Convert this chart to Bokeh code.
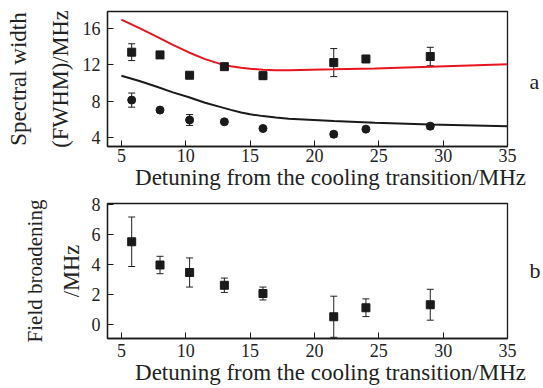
from bokeh.plotting import figure
from bokeh.models import ColumnDataSource, Whisker, TeeHead, Range1d, LinearAxis, FixedTicker
from bokeh.layouts import column
from bokeh.embed import file_html
from bokeh.resources import INLINE

# ---- data ----
detuning = [5.8, 8.0, 10.3, 13.0, 16.0, 21.5, 24.0, 29.0]
width_sq = [13.4, 13.1, 10.85, 11.8, 10.8, 12.25, 12.65, 12.92]
width_sq_err = [0.93, 0, 0, 0, 0.4, 1.55, 0, 1.02]
width_ci = [8.1, 7.0, 5.9, 5.7, 4.96, 4.33, 4.89, 5.22]
width_ci_err = [0.78, 0, 0.6, 0, 0, 0.3, 0, 0.3]
curve_x = [5, 6.4, 7.7, 9, 10.25, 11.5, 12.8, 13.5, 14.3, 15, 16, 17, 18, 21.5, 24.7, 29, 35]
red_curve = [17.0, 16.07, 15.15, 14.2, 13.37, 12.63, 12.05, 11.85, 11.68, 11.56, 11.46, 11.41, 11.4,
             11.5, 11.6, 11.8, 12.07]
black_curve = [10.8, 10.22, 9.6, 8.96, 8.41, 7.81, 7.3, 7.02, 6.74, 6.53, 6.33, 6.17, 6.04,
               5.78, 5.59, 5.41, 5.22]
field = [5.5, 3.95, 3.45, 2.6, 2.05, 0.5, 1.1, 1.3]
field_err = [1.65, 0.58, 0.97, 0.48, 0.43, 1.37, 0.59, 1.03]
x_ticks = [5, 10, 15, 20, 25, 30, 35]
y_ticks_a = [4, 8, 12, 16]
y_ticks_b = [0, 2, 4, 6, 8]

FONT = "Liberation Serif"
INK = "#1a1a1a"
XLABEL = "\u00a0" * 8 + "Detuning from the cooling transition/MHz"


def style(p, yticks, xstand, ystand):
    p.outline_line_color = INK
    p.outline_line_width = 1.3
    p.xgrid.visible = False
    p.ygrid.visible = False
    p.xaxis.ticker = FixedTicker(ticks=x_ticks)
    p.yaxis.ticker = FixedTicker(ticks=yticks)
    for ax in (p.xaxis[0], p.yaxis[0]):
        ax.major_tick_in = 6
        ax.major_tick_out = 0
        ax.minor_tick_line_color = None
        ax.axis_line_color = INK
        ax.axis_line_width = 1.3
        ax.major_tick_line_color = INK
        ax.major_label_text_font = FONT
        ax.major_label_text_font_size = "18px"
        ax.major_label_text_color = "#222222"
        ax.axis_label_text_font = FONT
        ax.axis_label_text_font_style = "normal"
        ax.axis_label_text_color = "#222222"
    p.xaxis.axis_label_text_font_size = "23px"
    p.xaxis.major_label_standoff = xstand
    p.yaxis.major_label_standoff = ystand


def plain_axis(ax):
    ax.axis_line_color = None
    ax.major_tick_line_color = None
    ax.minor_tick_line_color = None
    ax.major_tick_in = 0
    ax.major_tick_out = 0
    ax.minor_tick_in = 0
    ax.minor_tick_out = 0


def outer_label(p, text, size, standoff):
    ax = LinearAxis(ticker=FixedTicker(ticks=[]), axis_label=text)
    plain_axis(ax)
    ax.major_label_standoff = 0
    ax.major_label_text_font_size = "0px"
    ax.axis_label_text_font = FONT
    ax.axis_label_text_font_size = size
    ax.axis_label_text_font_style = "normal"
    ax.axis_label_text_color = "#222222"
    ax.axis_label_standoff = standoff
    p.add_layout(ax, "left")


def panel_tag(p, text, pos_from_bottom, frame_h):
    p.extra_y_ranges = {"tag": Range1d(0, frame_h)}
    ax = LinearAxis(y_range_name="tag", ticker=FixedTicker(ticks=[pos_from_bottom]),
                    major_label_overrides={pos_from_bottom: text})
    plain_axis(ax)
    ax.major_label_standoff = 22
    ax.major_label_text_font = FONT
    ax.major_label_text_font_size = "22px"
    ax.major_label_text_color = "#222222"
    p.add_layout(ax, "right")


def err_source(x, y, e):
    xs, lo, hi = [], [], []
    for xi, yi, ei in zip(x, y, e):
        if ei > 0:
            xs.append(xi)
            lo.append(yi - ei)
            hi.append(yi + ei)
    return ColumnDataSource(dict(x=xs, lower=lo, upper=hi))


def add_whisker(p, src, color=INK):
    w = Whisker(base="x", lower="lower", upper="upper", source=src,
                line_color=color, line_width=1,
                upper_head=TeeHead(size=7, line_color=color, line_width=1),
                lower_head=TeeHead(size=7, line_color=color, line_width=1))
    p.add_layout(w)


# ---- panel a ----
pa = figure(width=543, height=193, output_backend="svg", toolbar_location=None,
            x_range=Range1d(3.92, 35), y_range=Range1d(2.97, 17.9),
            min_border_left=107, min_border_right=32, min_border_top=11, min_border_bottom=47)
style(pa, y_ticks_a, 2, 7)
pa.xaxis.axis_label = XLABEL
pa.xaxis.axis_label_standoff = 0
pa.yaxis.axis_label = "(FWHM)/MHz"
pa.yaxis.axis_label_text_font_size = "22.5px"
pa.yaxis.axis_label_standoff = 7
outer_label(pa, "Spectral width", "23px", 14)
panel_tag(pa, "a", 65, 135)

pa.line(curve_x, red_curve, line_color="#e8151f", line_width=2)
pa.line(curve_x, black_curve, line_color=INK, line_width=2)
add_whisker(pa, err_source(detuning, width_sq, width_sq_err))
add_whisker(pa, err_source(detuning, width_ci, width_ci_err))
pa.scatter(detuning, width_sq, marker="square", size=8, fill_color=INK, line_color=INK)
pa.scatter(detuning, width_ci, marker="circle", size=8, fill_color=INK, line_color=INK)

# ---- panel b ----
pb = figure(width=543, height=195, output_backend="svg", toolbar_location=None,
            x_range=Range1d(3.92, 35), y_range=Range1d(-0.95, 8.05),
            min_border_left=107, min_border_right=32, min_border_top=10, min_border_bottom=50)
style(pb, y_ticks_b, 5, 7)
pb.xaxis.axis_label = XLABEL
pb.xaxis.axis_label_standoff = 0
pb.yaxis.axis_label = "/MHz"
pb.yaxis.axis_label_text_font_size = "22.5px"
pb.yaxis.axis_label_standoff = 5
outer_label(pb, "Field broadening", "21px", 9)
panel_tag(pb, "b", 68, 135)

add_whisker(pb, err_source(detuning, field, field_err), color="#222222")
pb.scatter(detuning, field, marker="square", size=8, fill_color=INK, line_color=INK)

layout = column(pa, pb, spacing=0)
open("out.html", "w").write(file_html(layout, INLINE))
